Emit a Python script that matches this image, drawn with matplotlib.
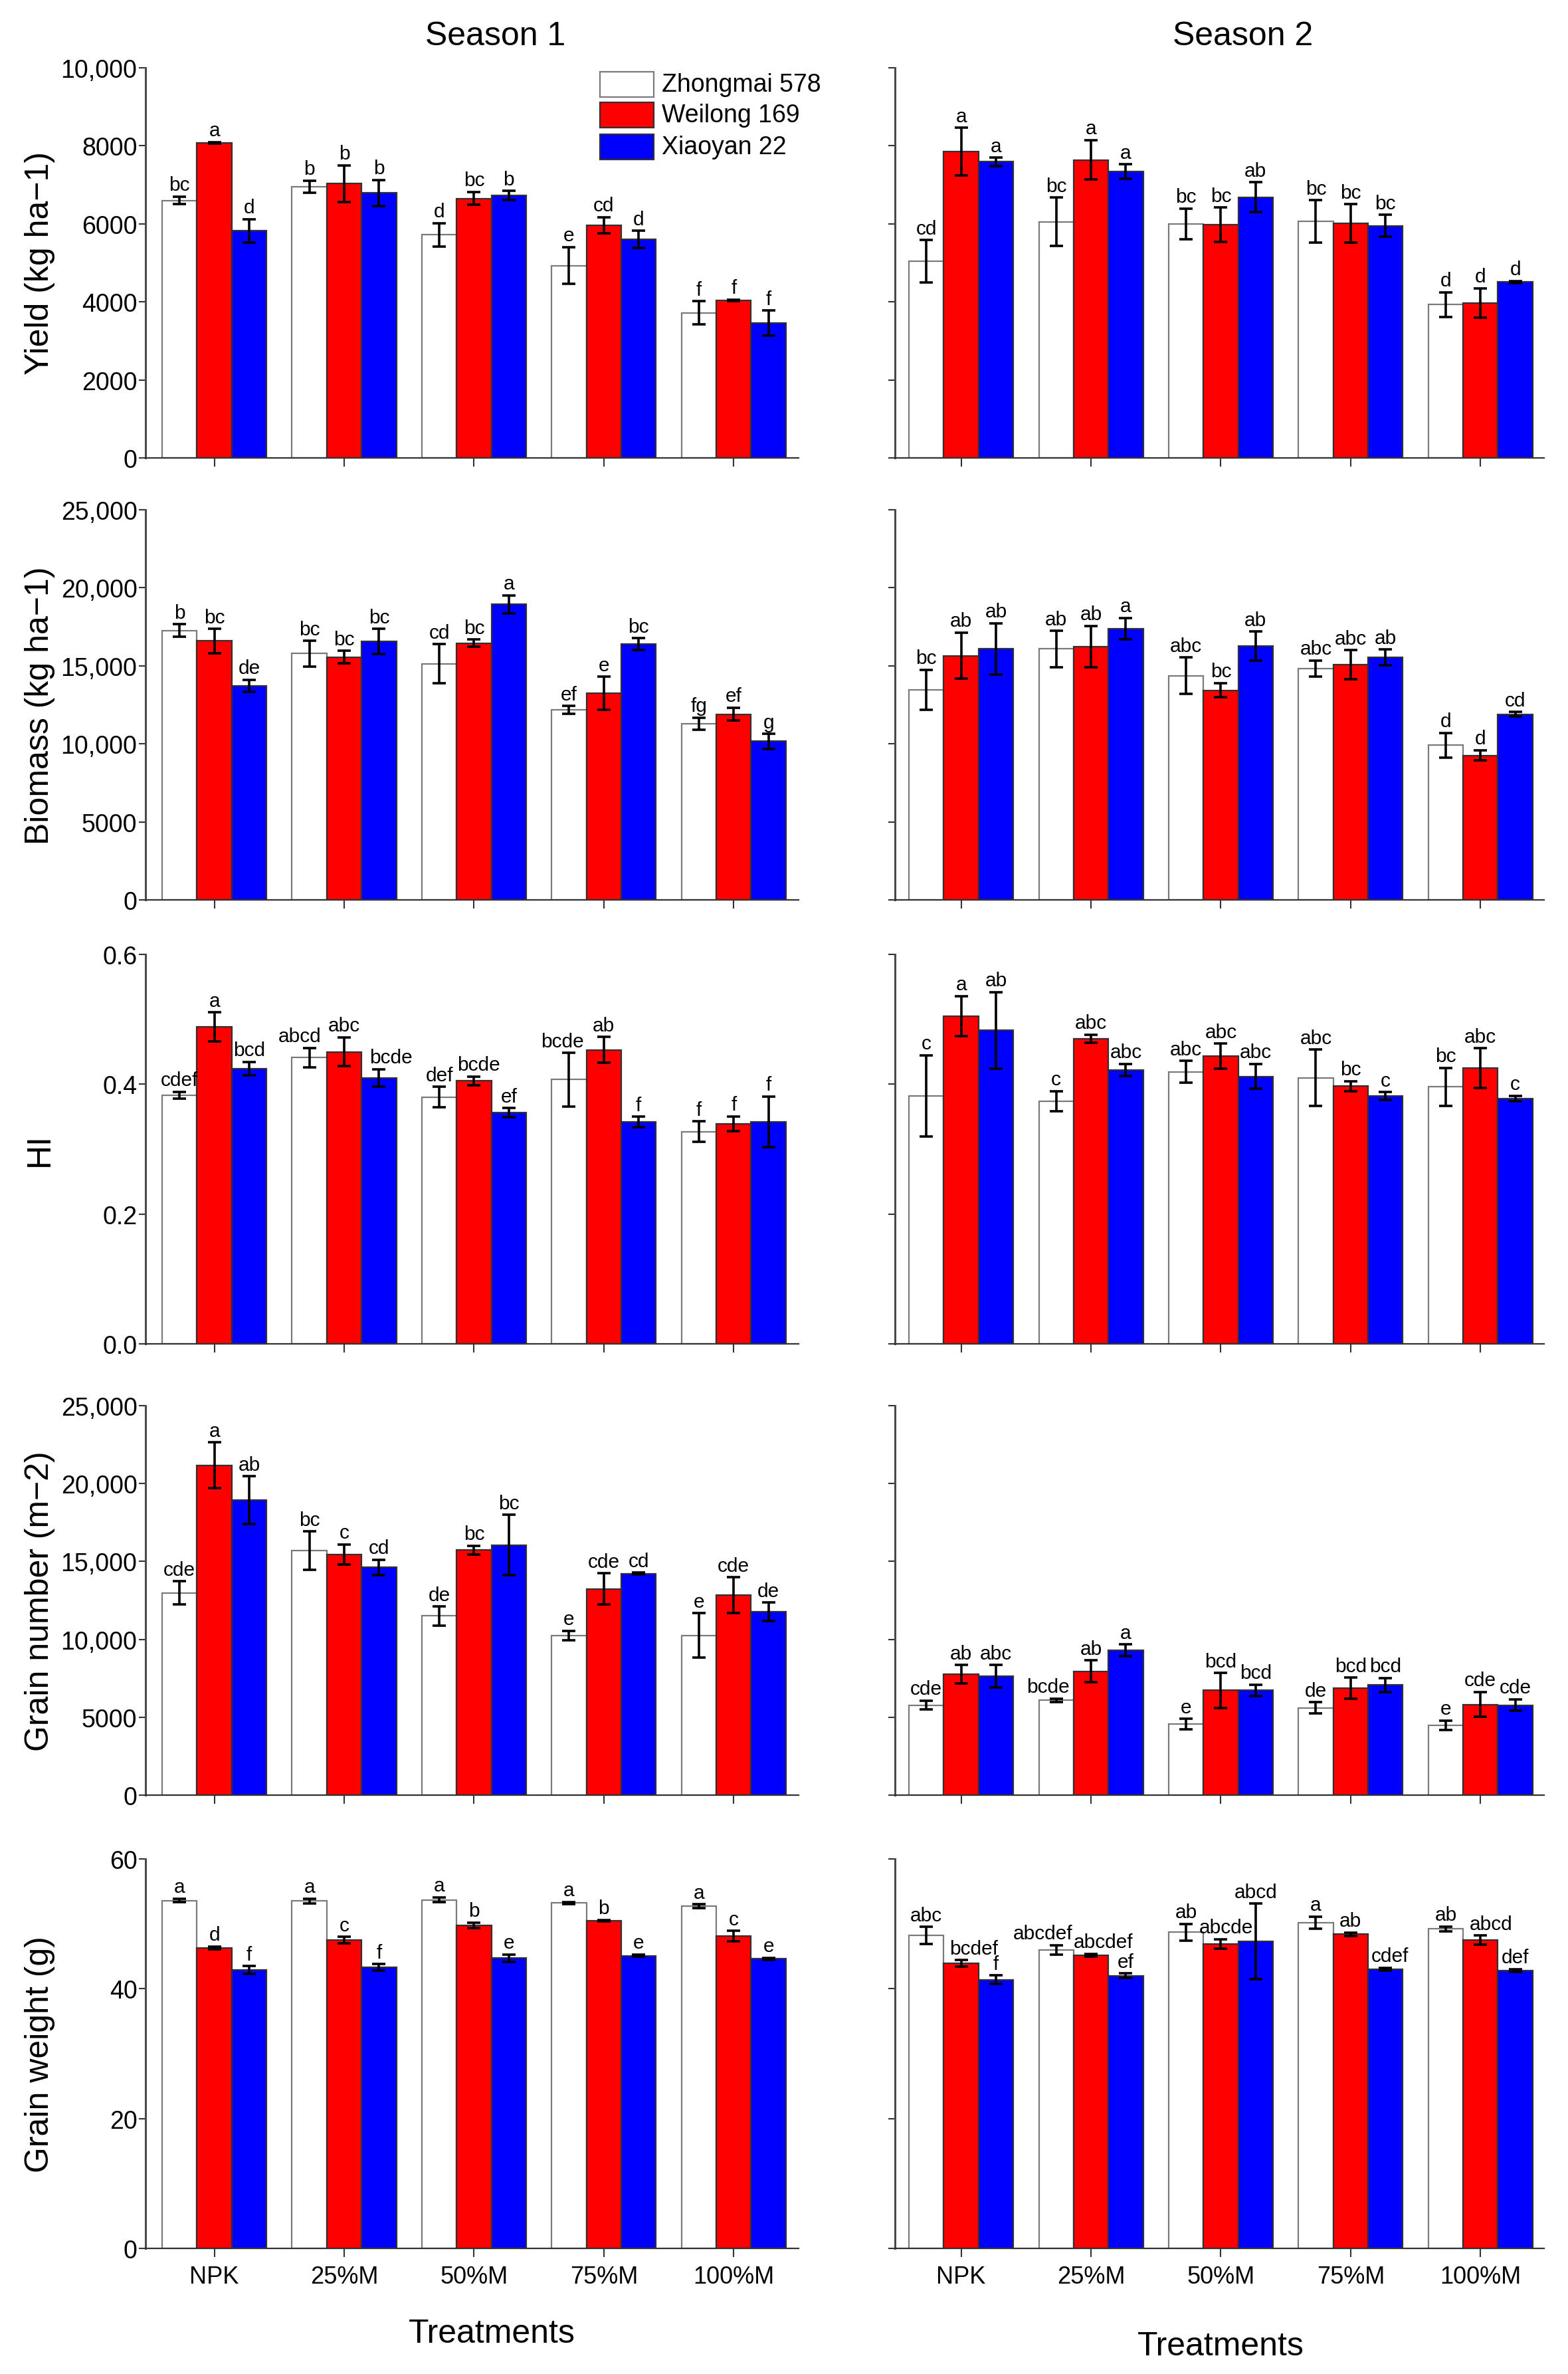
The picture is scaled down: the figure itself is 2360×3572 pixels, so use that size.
import matplotlib
matplotlib.use("Agg")
import matplotlib.pyplot as plt
from matplotlib.patches import Rectangle
import numpy as np

plt.rcParams['font.family'] = ['Liberation Sans', 'DejaVu Sans']

# ---------------- data ----------------
treatments = ["NPK", "25%M", "50%M", "75%M", "100%M"]
cultivars = ["Zhongmai 578", "Weilong 169", "Xiaoyan 22"]

# order within each list: [Zhongmai 578, Weilong 169, Xiaoyan 22], each over treatments
yield_s1 = [[6600, 6950, 5720, 4930, 3720], [8080, 7030, 6650, 5970, 4040], [5820, 6790, 6730, 5600, 3460]]
yield_s1_err = [[100, 155, 295, 475, 300], [20, 470, 165, 205, 15], [300, 335, 115, 225, 320]]
yield_s1_let = [["bc", "b", "d", "e", "f"], ["a", "b", "bc", "cd", "f"], ["d", "b", "b", "d", "f"]]

yield_s2 = [[5040, 6050, 6000, 6060, 3930], [7850, 7640, 5980, 6010, 3970], [7590, 7340, 6680, 5950, 4510]]
yield_s2_err = [[545, 620, 390, 545, 320], [615, 510, 440, 490, 380], [110, 185, 385, 285, 30]]
yield_s2_let = [["cd", "bc", "bc", "bc", "d"], ["a", "a", "bc", "bc", "d"], ["a", "a", "ab", "bc", "d"]]

biomass_s1 = [[17260, 15780, 15130, 12180, 11290], [16590, 15560, 16450, 13250, 11900], [13710, 16560, 18940, 16390, 10160]]
biomass_s1_err = [[415, 830, 1250, 250, 390], [785, 405, 230, 1060, 415], [390, 800, 570, 390, 480]]
biomass_s1_let = [["b", "bc", "cd", "ef", "fg"], ["bc", "bc", "bc", "e", "ef"], ["de", "bc", "a", "bc", "g"]]

biomass_s2 = [[13470, 16080, 14360, 14840, 9920], [15650, 16240, 13430, 15080, 9260], [16080, 17370, 16260, 15540, 11900]]
biomass_s2_err = [[1285, 1155, 1165, 510, 785], [1480, 1320, 460, 925, 330], [1645, 690, 925, 510, 150]]
biomass_s2_let = [["bc", "ab", "abc", "abc", "d"], ["ab", "ab", "bc", "abc", "d"], ["ab", "a", "ab", "ab", "cd"]]

hi_s1 = [[0.383, 0.441, 0.380, 0.407, 0.327], [0.488, 0.450, 0.405, 0.453, 0.339], [0.424, 0.410, 0.356, 0.342, 0.342]]
hi_s1_err = [[0.0055, 0.015, 0.016, 0.041, 0.0155], [0.0226, 0.0224, 0.0067, 0.020, 0.0115], [0.0106, 0.0133, 0.007, 0.008, 0.039]]
hi_s1_let = [["cdef", "abcd", "def", "bcde", "f"], ["a", "abc", "bcde", "ab", "f"], ["bcd", "bcde", "ef", "f", "f"]]

hi_s2 = [[0.382, 0.374, 0.419, 0.410, 0.396], [0.505, 0.470, 0.443, 0.397, 0.425], [0.483, 0.422, 0.412, 0.382, 0.378]]
hi_s2_err = [[0.0626, 0.0153, 0.0169, 0.0432, 0.029], [0.031, 0.0064, 0.0195, 0.0078, 0.0306], [0.0588, 0.0093, 0.0193, 0.0058, 0.004]]
hi_s2_let = [["c", "c", "abc", "abc", "bc"], ["a", "abc", "abc", "bc", "abc"], ["ab", "abc", "abc", "c", "c"]]

grain_s1 = [[12980, 15690, 11500, 10250, 10250], [21180, 15450, 15730, 13240, 12830], [18930, 14620, 16060, 14220, 11760]]
grain_s1_err = [[757, 1237, 600, 295, 1430], [1460, 637, 286, 990, 1145], [1530, 490, 1940, 55, 600]]
grain_s1_let = [["cde", "bc", "de", "e", "e"], ["a", "c", "bc", "cde", "cde"], ["ab", "cd", "bc", "cd", "de"]]

grain_s2 = [[5780, 6080, 4560, 5600, 4490], [7760, 7940, 6720, 6870, 5820], [7630, 9290, 6720, 7070, 5780]]
grain_s2_err = [[295, 110, 340, 370, 305], [600, 700, 1110, 665, 800], [730, 380, 370, 450, 370]]
grain_s2_let = [["cde", "bcde", "e", "de", "e"], ["ab", "ab", "bcd", "bcd", "cde"], ["abc", "a", "bcd", "bcd", "cde"]]

gw_s1 = [[53.6, 53.5, 53.7, 53.2, 52.7], [46.3, 47.5, 49.8, 50.5, 48.1], [42.9, 43.3, 44.7, 45.1, 44.6]]
gw_s1_err = [[0.3, 0.4, 0.4, 0.15, 0.3], [0.2, 0.5, 0.42, 0.1, 0.8], [0.6, 0.5, 0.6, 0.2, 0.15]]
gw_s1_let = [["a", "a", "a", "a", "a"], ["d", "c", "b", "b", "c"], ["f", "f", "e", "e", "e"]]

gw_s2 = [[48.2, 46.0, 48.7, 50.2, 49.2], [43.9, 45.2, 46.9, 48.4, 47.5], [41.4, 42.0, 47.3, 43.0, 42.8]]
gw_s2_err = [[1.32, 0.72, 1.27, 0.93, 0.4], [0.5, 0.2, 0.72, 0.25, 0.72], [0.64, 0.34, 5.83, 0.25, 0.25]]
gw_s2_let = [["abc", "abcdef", "ab", "a", "ab"], ["bcdef", "abcdef", "abcde", "ab", "abcd"], ["f", "ef", "abcd", "cdef", "def"]]

ylabels = ["Yield (kg ha\u22121)", "Biomass (kg ha\u22121)", "HI", "Grain number (m\u22122)", "Grain weight (g)"]
yticks_list = [[0, 2000, 4000, 6000, 8000, 10000],
               [0, 5000, 10000, 15000, 20000, 25000],
               [0.0, 0.2, 0.4, 0.6],
               [0, 5000, 10000, 15000, 20000, 25000],
               [0, 20, 40, 60]]
ytick_labels = [["0", "2000", "4000", "6000", "8000", "10,000"],
                ["0", "5000", "10,000", "15,000", "20,000", "25,000"],
                ["0.0", "0.2", "0.4", "0.6"],
                ["0", "5000", "10,000", "15,000", "20,000", "25,000"],
                ["0", "20", "40", "60"]]
season_titles = ["Season 1", "Season 2"]
xlabel = "Treatments"

panels = [
    [(yield_s1, yield_s1_err, yield_s1_let), (yield_s2, yield_s2_err, yield_s2_let)],
    [(biomass_s1, biomass_s1_err, biomass_s1_let), (biomass_s2, biomass_s2_err, biomass_s2_let)],
    [(hi_s1, hi_s1_err, hi_s1_let), (hi_s2, hi_s2_err, hi_s2_let)],
    [(grain_s1, grain_s1_err, grain_s1_let), (grain_s2, grain_s2_err, grain_s2_let)],
    [(gw_s1, gw_s1_err, gw_s1_let), (gw_s2, gw_s2_err, gw_s2_let)],
]

# ---------------- style / layout ----------------
W, H = 2360, 3573
fig = plt.figure(figsize=(W / 100, H / 100), dpi=100)
fig.patch.set_facecolor("white")

face_colors = ["#FFFFFF", "#FF0000", "#0000FF"]
edge_colors = ["#7A7A7A", "#303030", "#303030"]
rows_px = [(103, 690), (768, 1355), (1437, 2023), (2116, 2702), (2798, 3384)]
cols_px = [(219, 1202, (-0.53, 4.5)), (1347, 2324, (-0.51, 4.49))]
bw = 0.268
offsets = [-bw, 0.0, bw]
x = np.arange(len(treatments))

# horizontal nudges (pixels) of some significance letters: (row, col, cultivar, treatment)
letter_nudge_px = {
    (2, 0, 0, 1): -15, (2, 0, 2, 1): 18, (2, 0, 1, 2): 7, (2, 0, 0, 3): -10,
    (3, 1, 0, 1): -12,
    (4, 1, 1, 0): 19, (4, 1, 0, 1): -20, (4, 1, 1, 1): 19, (4, 1, 1, 2): 8,
    (4, 1, 1, 4): 16, (4, 1, 2, 3): 7,
}

for r, (y0, y1) in enumerate(rows_px):
    for c, (x0, x1, xl) in enumerate(cols_px):
        ax = fig.add_axes([x0 / W, 1 - y1 / H, (x1 - x0) / W, (y1 - y0) / H])
        means, errs, lets = panels[r][c]
        for k in range(3):
            xs = x + offsets[k]
            ax.bar(xs, means[k], width=bw, color=face_colors[k], edgecolor=edge_colors[k],
                   linewidth=1.6, zorder=2)
            ax.errorbar(xs, means[k], yerr=errs[k], fmt="none", ecolor="black",
                        elinewidth=2.6, capsize=7, capthick=2.6, zorder=3)
            for i in range(len(treatments)):
                dx = letter_nudge_px.get((r, c, k, i), 0) * 0.72
                ax.annotate(lets[k][i], (xs[i], means[k][i] + errs[k][i]),
                            xytext=(dx, 2.5), textcoords="offset points",
                            ha="center", va="bottom", fontsize=21.5, zorder=4,
                            annotation_clip=False)
        ax.set_xlim(*xl)
        ax.set_ylim(yticks_list[r][0], yticks_list[r][-1])
        ax.set_yticks(yticks_list[r])
        ax.set_xticks(x)
        if c == 0:
            ax.set_yticklabels(ytick_labels[r])
        else:
            ax.set_yticklabels([])
        if r == len(rows_px) - 1:
            ax.set_xticklabels(treatments)
        else:
            ax.set_xticklabels([])
        for s in ["top", "right"]:
            ax.spines[s].set_visible(False)
        ax.spines["left"].set_color("#4a4a4a")
        ax.spines["left"].set_linewidth(2.2)
        ax.spines["bottom"].set_color("#333333")
        ax.spines["bottom"].set_linewidth(1.6)
        ax.tick_params(axis="y", direction="out", length=7, width=1.5, color="#333333",
                       labelsize=27, pad=2)
        ax.tick_params(axis="x", direction="out", length=9, width=1.5, color="#333333",
                       labelsize=26, pad=9)
        if c == 0:
            fig.text(60 / W, 1 - ((y0 + y1) / 2) / H, ylabels[r], rotation=90,
                     ha="center", va="center", fontsize=36)

# titles
fig.text(746 / W, 1 - 55 / H, season_titles[0], ha="center", va="center", fontsize=36)
fig.text(1871 / W, 1 - 55 / H, season_titles[1], ha="center", va="center", fontsize=36)
fig.text(740 / W, 1 - 3512 / H, xlabel, ha="center", va="center", fontsize=36)
fig.text(1837 / W, 1 - 3531 / H, xlabel, ha="center", va="center", fontsize=36)

# legend (manual, top-left panel)
leg_y = [128, 174, 222]
for k in range(3):
    fig.add_artist(Rectangle((903 / W, 1 - (leg_y[k] + 19) / H), 81 / W, 38 / H,
                             transform=fig.transFigure, facecolor=face_colors[k],
                             edgecolor=edge_colors[k], linewidth=1.6))
    fig.text(996 / W, 1 - leg_y[k] / H, cultivars[k], ha="left", va="center", fontsize=27)

fig.savefig("out.png", dpi=100, facecolor="white")
